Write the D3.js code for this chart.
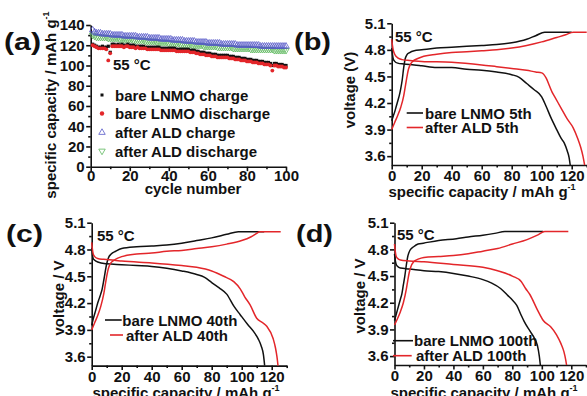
<!DOCTYPE html>
<html>
<head>
<meta charset="utf-8">
<script src="https://cdn.jsdelivr.net/npm/d3@7"></script>
<style>
  body { margin: 0; background: #fff; }
  svg { display: block; }
  text { font-family: "Liberation Sans", Arial, sans-serif; font-weight: bold; fill: #111; }
  .axis path, .axis line { stroke: #111; stroke-width: 1.6; }
</style>
</head>
<body>
<svg id="chart" width="587" height="396"></svg>
<script>
// (a) capacity vs cycle number, 55 C
const cycles = d3.range(1, 101);
const bareCharge = [
  121, 120, 119, 118, 118, 119, 118, 118, 119, 113,
  121, 121, 120, 121, 120, 121, 120, 120, 121, 120,
  120, 120, 119, 119, 119, 119, 119, 118, 118, 118,
  118, 118, 118, 118, 118, 117, 117, 117, 117, 117,
  117, 117, 117, 116, 116, 116, 116, 116, 116, 116,
  115, 115, 115, 114, 114, 113, 113, 113, 112, 112,
  112, 111, 111, 111, 110, 110, 110, 110, 110, 110,
  109, 109, 109, 108, 108, 108, 107, 107, 107, 106,
  106, 106, 105, 105, 105, 104, 104, 104, 103, 103,
  103, 102, 100, 102, 102, 101, 101, 101, 100, 100
];
const bareDischarge = [
  120, 119, 118, 117, 117, 117, 117, 116, 105, 112,
  119, 119, 119, 119, 119, 119, 118, 119, 119, 118,
  118, 118, 117, 118, 117, 117, 117, 117, 116, 116,
  116, 116, 116, 116, 116, 115, 115, 115, 115, 115,
  115, 115, 115, 114, 114, 114, 114, 114, 114, 114,
  113, 113, 113, 112, 112, 111, 111, 111, 110, 110,
  110, 109, 109, 109, 108, 108, 108, 108, 108, 108,
  107, 107, 107, 106, 106, 106, 105, 105, 105, 104,
  104, 104, 103, 103, 103, 102, 102, 102, 101, 101,
  101, 100, 95, 100, 100, 99, 99, 99, 98, 98
];
const aldCharge = [
  135, 133, 132, 132, 132, 131, 131, 131, 131, 131,
  130, 130, 130, 130, 130, 130, 129, 129, 129, 129,
  129, 129, 129, 128, 128, 128, 128, 128, 128, 127,
  127, 127, 127, 127, 127, 126, 126, 126, 126, 126,
  126, 125, 125, 125, 125, 125, 125, 124, 124, 124,
  124, 124, 124, 123, 123, 123, 123, 123, 123, 122,
  122, 122, 122, 122, 122, 122, 121, 121, 121, 121,
  121, 121, 121, 121, 120, 120, 120, 120, 120, 120,
  120, 120, 120, 120, 120, 120, 119, 119, 119, 119,
  119, 119, 119, 119, 119, 119, 119, 119, 119, 119
];
const aldDischarge = [
  130, 129, 128, 128, 128, 128, 128, 128, 127, 127,
  127, 127, 127, 127, 126, 126, 126, 126, 126, 126,
  126, 125, 125, 125, 125, 125, 125, 124, 124, 124,
  124, 124, 124, 123, 123, 123, 123, 123, 123, 122,
  122, 122, 122, 122, 122, 121, 121, 121, 121, 121,
  121, 120, 120, 120, 120, 120, 120, 119, 119, 119,
  119, 119, 119, 119, 118, 118, 118, 118, 118, 118,
  118, 118, 117, 117, 117, 117, 117, 117, 117, 117,
  117, 116, 116, 116, 116, 116, 116, 116, 116, 116,
  116, 116, 116, 115, 115, 115, 115, 115, 115, 115
];
const legendA = ['bare LNMO charge', 'bare LNMO discharge', 'after ALD charge', 'after ALD discharge'];

// (b) 5th cycle, [capacity, voltage]
const bareCharge5 = [[0,4.0],[1,4.05],[2,4.1],[3,4.16],[4,4.22],[5,4.28],[6,4.36],[7,4.46],[8,4.6],[9,4.7],[10,4.74],[12,4.77],[15,4.79],[20,4.80],[30,4.82],[40,4.83],[50,4.84],[60,4.85],[70,4.86],[80,4.88],[90,4.92],[96,4.96],[102,5.0],[120,5.0]];
const aldCharge5 = [[0,3.9],[2,3.98],[4,4.06],[6,4.15],[8,4.28],[9,4.38],[10,4.48],[11,4.57],[12,4.62],[14,4.67],[17,4.7],[20,4.72],[30,4.75],[40,4.77],[50,4.78],[60,4.79],[70,4.8],[80,4.82],[90,4.85],[100,4.89],[110,4.94],[116,4.97],[121,5.0],[130,5.0]];
const bareDis5 = [[0,4.82],[0.5,4.75],[1,4.7],[2,4.67],[4,4.65],[8,4.64],[15,4.63],[20,4.62],[30,4.6],[40,4.6],[50,4.58],[60,4.57],[70,4.55],[80,4.52],[85,4.49],[90,4.42],[95,4.35],[100,4.27],[103,4.16],[106,4.04],[110,3.9],[113,3.8],[115,3.75],[117,3.66],[118.3,3.58],[119,3.5]];
const aldDis5 = [[0,4.92],[0.5,4.85],[1,4.8],[2,4.75],[4,4.71],[7,4.69],[12,4.68],[20,4.67],[40,4.66],[60,4.63],[70,4.61],[80,4.59],[90,4.57],[96,4.55],[100,4.54],[103,4.48],[105,4.4],[107,4.32],[109,4.26],[113,4.14],[117,4.02],[121,3.92],[124,3.8],[126,3.7],[127.5,3.6],[128.6,3.5]];
const legendB = ['bare LNMO 5th', 'after ALD 5th'];

// (c) 40th cycle
const bareCharge40 = [[0,3.95],[1,4.02],[2,4.08],[3,4.14],[4,4.2],[5,4.25],[6,4.3],[7,4.36],[8,4.45],[9,4.55],[10,4.64],[11,4.7],[13,4.75],[16,4.78],[20,4.81],[30,4.83],[40,4.84],[50,4.85],[60,4.87],[70,4.9],[80,4.93],[90,4.97],[97.8,5.0],[115,5.0]];
const aldCharge40 = [[0,3.9],[2,3.98],[4,4.06],[6,4.16],[8,4.3],[9,4.4],[10,4.5],[11,4.58],[12,4.63],[14,4.67],[17,4.7],[20,4.72],[30,4.75],[40,4.76],[50,4.78],[60,4.79],[70,4.81],[80,4.83],[90,4.86],[100,4.9],[106,4.94],[110,4.98],[112,5.0],[126,5.0]];
const bareDis40 = [[0,4.82],[0.5,4.74],[1,4.7],[2,4.68],[4,4.66],[10,4.64],[20,4.63],[30,4.62],[40,4.61],[50,4.59],[60,4.56],[70,4.52],[75,4.49],[80,4.43],[85,4.37],[90,4.3],[95,4.16],[99,4.07],[104,3.96],[108,3.88],[111,3.8],[113,3.72],[114.5,3.62],[115.3,3.5]];
const aldDis40 = [[0,4.88],[0.5,4.8],[1,4.75],[2,4.72],[4,4.7],[8,4.69],[15,4.68],[20,4.67],[40,4.65],[60,4.62],[70,4.6],[80,4.56],[88,4.5],[94.7,4.44],[99,4.36],[102,4.27],[105.6,4.18],[110,4.03],[114,3.98],[116.7,3.94],[121,3.8],[122.5,3.7],[123.5,3.6],[124.2,3.5]];
const legendC = ['bare LNMO 40th', 'after ALD 40th'];

// (d) 100th cycle
const bareCharge100 = [[0,4.0],[1,4.06],[2,4.12],[3,4.18],[4,4.24],[5,4.3],[6,4.4],[7,4.5],[8,4.62],[9,4.72],[10.5,4.79],[13,4.83],[16,4.86],[19.6,4.87],[30,4.9],[42,4.92],[50,4.94],[60,4.96],[68,4.98],[75,5.0],[101,5.0]];
const aldCharge100 = [[0,3.95],[2,4.02],[4,4.1],[6,4.2],[8,4.35],[9,4.45],[10,4.54],[11,4.6],[13,4.66],[16,4.69],[20,4.71],[30,4.72],[40,4.73],[50,4.75],[60,4.78],[70,4.81],[80,4.86],[90,4.91],[97,4.96],[102,5.0],[118,5.0]];
const bareDis100 = [[0,4.75],[0.5,4.68],[1,4.64],[2,4.61],[4,4.59],[10,4.58],[20,4.56],[30,4.55],[40,4.53],[50,4.5],[60,4.46],[66,4.42],[72,4.36],[77,4.28],[80,4.23],[83,4.17],[86,4.06],[88,3.99],[92,3.88],[95,3.8],[97,3.72],[98.3,3.6],[99,3.5]];
const aldDis100 = [[0,4.86],[0.5,4.78],[1,4.73],[2,4.7],[4,4.68],[10,4.67],[20,4.66],[40,4.63],[60,4.6],[70,4.56],[80,4.5],[86,4.44],[89,4.36],[92,4.29],[97,4.12],[101,4.0],[106,3.93],[110,3.84],[113,3.74],[115,3.65],[116.2,3.56],[116.8,3.5]];
const legendD = ['bare LNMO 100th', 'after ALD 100th'];

const voltTicks = [3.6, 3.9, 4.2, 4.5, 4.8, 5.1];
const voltMinor = [3.75, 4.05, 4.35, 4.65, 4.95];
const capTicks = [0, 20, 40, 60, 80, 100, 120];
const capMinor = [10, 30, 50, 70, 90, 110, 130];

const BLACK = '#111', RED = '#e3262a';
const svg = d3.select('#chart');

function frame(o) {
  const x = d3.scaleLinear().domain(o.xDomain).range(o.xRange);
  const y = d3.scaleLinear().domain(o.yDomain).range(o.yRange);
  const bottom = o.yRange[0], left = o.xRange[0];

  svg.append('g').attr('class', 'axis').attr('transform', `translate(0,${bottom})`)
    .call(d3.axisBottom(x).tickValues(o.xMinor).tickSize(2.5).tickFormat('').tickSizeOuter(0))
    .call(a => a.select('.domain').remove());
  svg.append('g').attr('class', 'axis').attr('transform', `translate(0,${bottom})`)
    .call(d3.axisBottom(x).tickValues(o.xTicks).tickSize(4.5).tickPadding(o.xPad)
      .tickSizeOuter(0).tickFormat(d3.format('d')))
    .call(a => a.selectAll('text').style('font-size', '15px'));

  svg.append('g').attr('class', 'axis').attr('transform', `translate(${left},0)`)
    .call(d3.axisLeft(y).tickValues(o.yMinor).tickSize(2.5).tickFormat('').tickSizeOuter(0))
    .call(a => a.select('.domain').remove());
  svg.append('g').attr('class', 'axis').attr('transform', `translate(${left},0)`)
    .call(d3.axisLeft(y).tickValues(o.yTicks).tickSize(4.5).tickPadding(1.5)
      .tickSizeOuter(0).tickFormat(o.yFormat))
    .call(a => a.selectAll('text').style('font-size', '15px'));

  // x title
  const xt = svg.append('text').attr('x', o.xTitle[1]).attr('y', o.xTitle[2])
    .attr('text-anchor', 'middle').style('font-size', '15px').text(o.xTitle[0]);
  if (o.sup) xt.append('tspan').attr('dy', -7).style('font-size', '9px').text('-1');

  // y title
  const yt = svg.append('text')
    .attr('transform', `translate(${o.yTitle[1]},${o.yTitle[2]}) rotate(-90)`)
    .attr('text-anchor', 'middle').style('font-size', '15px').text(o.yTitle[0]);
  if (o.ySup) yt.append('tspan').attr('dy', -7).style('font-size', '9px').text('-1');

  // panel letter
  svg.append('text').attr('x', o.letter[1]).attr('y', o.letter[2])
    .attr('textLength', 37).attr('lengthAdjust', 'spacingAndGlyphs')
    .style('font-size', '24px').text(o.letter[0]);

  // temperature note
  svg.append('text').attr('x', o.temp[0]).attr('y', o.temp[1])
    .style('font-size', '15px').text('55 °C');

  return { x, y };
}

// ---------- (a)
{
  const { x, y } = frame({
    xDomain: [0, 100], xRange: [90.7, 286], yDomain: [0, 140], yRange: [166.7, 25],
    xTicks: [0, 20, 40, 60, 80, 100], xMinor: [10, 30, 50, 70, 90], xPad: -1,
    yTicks: d3.range(0, 141, 20), yMinor: d3.range(10, 140, 20), yFormat: d3.format('d'),
    xTitle: ['cycle number', 193, 193.5], sup: false,
    yTitle: ['specific capacity / mAh g', 56, 105], ySup: true,
    letter: ['(a)', 4, 50], temp: [113, 70]
  });

  const tri = d3.symbol().type(d3.symbolTriangle).size(18);
  const g = svg.append('g');
  g.selectAll('.ald-d').data(aldDischarge).join('path')
    .attr('d', tri).attr('fill', 'none').attr('stroke', '#5cb85c').attr('stroke-width', 0.8)
    .attr('transform', (d, i) => `translate(${x(cycles[i])},${y(d)}) rotate(180)`);
  g.selectAll('.ald-c').data(aldCharge).join('path')
    .attr('d', tri).attr('fill', 'none').attr('stroke', '#5658c8').attr('stroke-width', 0.8)
    .attr('transform', (d, i) => `translate(${x(cycles[i])},${y(d)})`);
  g.selectAll('.bare-c').data(bareCharge).join('rect')
    .attr('x', (d, i) => x(cycles[i]) - 1.6).attr('y', d => y(d) - 1.6)
    .attr('width', 3.2).attr('height', 3.2).attr('fill', BLACK);
  g.selectAll('.bare-d').data(bareDischarge).join('circle')
    .attr('cx', (d, i) => x(cycles[i])).attr('cy', d => y(d)).attr('r', 1.9).attr('fill', RED);

  // legend
  const ly = [95, 113.5, 132.5, 151];
  svg.append('rect').attr('x', 100.5).attr('y', ly[0] - 1.5).attr('width', 3).attr('height', 3).attr('fill', BLACK);
  svg.append('circle').attr('cx', 102).attr('cy', ly[1]).attr('r', 2.2).attr('fill', RED);
  svg.append('path').attr('d', tri).attr('transform', `translate(102,${ly[2]})`)
    .attr('fill', 'none').attr('stroke', '#5658c8').attr('stroke-width', 0.8);
  svg.append('path').attr('d', tri).attr('transform', `translate(102,${ly[3]}) rotate(180)`)
    .attr('fill', 'none').attr('stroke', '#5cb85c').attr('stroke-width', 0.8);
  legendA.forEach((t, i) => {
    svg.append('text').attr('x', 115).attr('y', ly[i] + 5.5).style('font-size', '15px').text(t);
  });
}

function curves(x, y, series) {
  const line = d3.line().x(d => x(d[0])).y(d => y(d[1])).curve(d3.curveMonotoneX);
  series.forEach(([data, color]) => {
    svg.append('path').datum(data).attr('d', line)
      .attr('fill', 'none').attr('stroke', color).attr('stroke-width', 1.5);
  });
}

function lineLegend(labels, rows) {
  labels.forEach((t, i) => {
    const r = rows[i];
    svg.append('line').attr('x1', r[0]).attr('x2', r[1]).attr('y1', r[2]).attr('y2', r[2])
      .attr('stroke', i ? RED : BLACK).attr('stroke-width', 1.6);
    svg.append('text').attr('x', r[3]).attr('y', r[2] + 5.5).style('font-size', '15px').text(t);
  });
}

const voltCommon = {
  yDomain: [3.5, 5.1], xDomain: [0, 130],
  xTicks: capTicks, xMinor: capMinor, xPad: 1,
  yTicks: voltTicks, yMinor: voltMinor, yFormat: d3.format('.1f'), sup: true
};

// ---------- (b)
{
  const { x, y } = frame(Object.assign({}, voltCommon, {
    xRange: [391.7, 586.7], yRange: [165, 23.3],
    xTitle: ['specific capacity / mAh g', 482, 196.5],
    yTitle: ['voltage (V)', 355, 90], letter: ['(b)', 294, 50], temp: [395, 42]
  }));
  curves(x, y, [[bareCharge5, BLACK], [bareDis5, BLACK], [aldCharge5, RED], [aldDis5, RED]]);
  lineLegend(legendB, [[406.7, 423, 113, 425], [406.7, 423, 127.5, 425]]);
}

// ---------- (c)
{
  const { x, y } = frame(Object.assign({}, voltCommon, {
    xRange: [91.7, 286.7], yRange: [365.6, 222.7],
    xTitle: ['specific capacity / mAh g', 186, 397.5],
    yTitle: ['voltage / V', 64, 298], letter: ['(c)', 6, 242], temp: [97, 241]
  }));
  curves(x, y, [[bareCharge40, BLACK], [bareDis40, BLACK], [aldCharge40, RED], [aldDis40, RED]]);
  lineLegend(legendC, [[105, 121.7, 320, 122.3], [110, 123, 335, 126]]);
}

// ---------- (d)
{
  const { x, y } = frame(Object.assign({}, voltCommon, {
    xRange: [394.5, 586], yRange: [365, 222.7],
    xTitle: ['specific capacity / mAh g', 484, 397.5],
    yTitle: ['voltage / V', 365, 296], letter: ['(d)', 296, 242], temp: [397, 240]
  }));
  curves(x, y, [[bareCharge100, BLACK], [bareDis100, BLACK], [aldCharge100, RED], [aldDis100, RED]]);
  lineLegend(legendD, [[393, 413, 340.7, 414], [393, 411.7, 355.7, 416]]);
}
</script>
</body>
</html>
